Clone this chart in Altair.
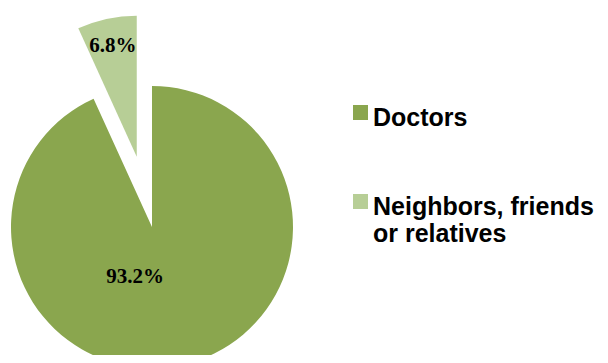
import altair as alt
import pandas as pd

# ---- data ----
sources = ["Doctors", "Neighbors, friends or relatives"]
shares = [93.2, 6.8]
colors = ["#8aa64e", "#b7ce96"]

df = pd.DataFrame({"source": sources, "share": shares, "order": list(range(len(sources)))})

# ---- layout / style constants ----
W, H = 592, 347
CX, CY = 144, 219        # pie centre in chart coordinates
R = 141                  # pie radius
EXPLODE = 72             # explode distance for the small slice

base = (
    alt.Chart(df)
    .transform_window(cum="sum(share)", sort=[alt.SortField("order")], frame=[None, 0])
    .transform_joinaggregate(total="sum(share)")
    .transform_calculate(
        t1="datum.cum / datum.total * 2 * PI",
        t0="(datum.cum - datum.share) / datum.total * 2 * PI",
    )
    .transform_calculate(mid="(datum.t0 + datum.t1) / 2")
    .transform_calculate(ex=f"datum.order == 0 ? 0 : {EXPLODE}")
    .transform_calculate(
        cx=f"{CX} + datum.ex * sin(datum.mid)",
        cy=f"{CY} - datum.ex * cos(datum.mid)",
        label="format(datum.share, '.1f') + '%'",
    )
)

wrap = (
    "length(datum.label) > 18 ? "
    "[substring(datum.label, 0, lastindexof(substring(datum.label, 0, 19), ' ')), "
    "substring(datum.label, lastindexof(substring(datum.label, 0, 19), ' ') + 1)] "
    ": datum.label"
)

arcs = base.mark_arc(radius=R, strokeWidth=0).encode(
    theta=alt.Theta("t0:Q", scale=None),
    theta2="t1:Q",
    x=alt.X("cx:Q", scale=None),
    y=alt.Y("cy:Q", scale=None),
    color=alt.Color(
        "source:N",
        scale=alt.Scale(domain=sources, range=colors),
        legend=alt.Legend(
            title=None,
            orient="none",
            legendX=340,
            legendY=92,
            symbolType="square",
            symbolSize=225,
            symbolStrokeWidth=0,
            symbolOpacity=1,
            labelFont="Liberation Sans",
            labelFontWeight="bold",
            labelFontSize=25,
            labelColor="#000000",
            labelOffset=0,
            labelLimit=400,
            labelBaseline="top",
            labelExpr=wrap,
            rowPadding=58,
            padding=0,
        ),
    ),
)

text_common = dict(font="Liberation Serif", fontWeight="bold", fontSize=21,
                   color="#000000", align="center", baseline="middle")

small_label = base.transform_filter("datum.order == 1").mark_text(**text_common).encode(
    x=alt.X("cx:Q", scale=None),
    y=alt.Y("cy:Q", scale=None),
    theta=alt.Theta("mid:Q", scale=None),
    radius=alt.value(R * 0.8),
    text="label:N",
)

big_label = base.transform_filter("datum.order == 0").mark_text(dx=-28, dy=-2, **text_common).encode(
    x=alt.X("cx:Q", scale=None),
    y=alt.Y("cy:Q", scale=None),
    theta=alt.Theta("mid:Q", scale=None),
    radius=alt.value(53),
    text="label:N",
)

chart = (
    alt.layer(arcs, small_label, big_label)
    .properties(width=W, height=H, autosize=alt.AutoSizeParams(type="none"), padding=0)
    .configure(style={"guide-label": {"dy": -7}})
    .configure_view(stroke=None)
)

chart.save("out.html", embed_options={"renderer": "svg", "actions": False})
